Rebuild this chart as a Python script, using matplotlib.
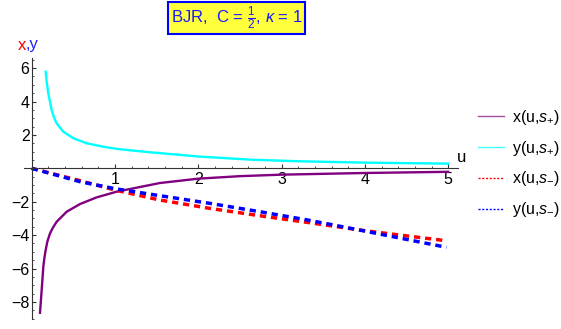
import matplotlib
matplotlib.use('Agg')
import matplotlib.pyplot as plt
from matplotlib.lines import Line2D
from matplotlib.ticker import MultipleLocator, FixedLocator

plt.rcParams['font.family'] = ['Liberation Sans', 'DejaVu Sans']
plt.rcParams['mathtext.fontset'] = 'custom'
plt.rcParams['mathtext.rm'] = 'Liberation Sans'
plt.rcParams['mathtext.it'] = 'Liberation Sans:italic'
plt.rcParams['mathtext.sf'] = 'Liberation Sans'

# values
u_xp = [0.10, 0.12, 0.14, 0.152, 0.168, 0.188, 0.22, 0.252, 0.30, 0.42, 0.58,
        0.78, 1.02, 1.54, 2.0, 2.5, 3.0, 4.0, 5.0]
x_plus = [-8.65, -7.29, -5.89, -5.39, -4.89, -4.39, -3.90, -3.58, -3.2, -2.6, -2.14,
          -1.74, -1.40, -0.88, -0.62, -0.47, -0.38, -0.28, -0.21]

u_yp = [0.168, 0.18, 0.199, 0.24, 0.268, 0.30, 0.38, 0.50, 0.66, 0.86, 1.06,
        1.42, 2.02, 2.62, 3.22, 4.0, 5.0]
y_plus = [5.78, 5.19, 4.49, 3.49, 3.05, 2.69, 2.19, 1.80, 1.50, 1.29, 1.14,
          0.96, 0.70, 0.52, 0.42, 0.34, 0.28]

u_minus = [0.0, 0.58, 1.0, 1.54, 2.14, 2.74, 3.34, 4.02, 4.98]
x_minus = [0.0, -0.74, -1.3, -1.9, -2.4, -2.84, -3.26, -3.75, -4.34]
y_minus = [0.0, -0.8, -1.22, -1.64, -2.1, -2.6, -3.12, -3.78, -4.73]

labels = [r'x(u,$s_{+}$)', r'y(u,$s_{+}$)', r'x(u,$s_{-}$)', r'y(u,$s_{-}$)']
colors = ['#800080', '#00ffff', '#ff0000', '#0000ff']

fig = plt.figure(figsize=(5.61, 3.29), dpi=100)
ax = fig.add_axes([0.0431, 0.0316, 0.7736, 0.7918])

ax.plot(u_xp, x_plus, color=colors[0], lw=1.7, solid_joinstyle='round')
ax.plot(u_yp, y_plus, color=colors[1], lw=1.7, solid_joinstyle='round')
ax.plot(u_minus, x_minus, color=colors[2], lw=2.5, dashes=(1.8, 1.4))
ax.plot(u_minus, y_minus, color=colors[3], lw=2.5, dashes=(1.8, 1.4))

ax.set_xlim(-0.09, 5.12)
ax.set_ylim(-9.0, 6.6)

for side in ['top', 'right']:
    ax.spines[side].set_visible(False)
ax.spines['left'].set_position(('data', 0))
ax.spines['bottom'].set_position(('data', 0))
for side in ['left', 'bottom']:
    ax.spines[side].set_color('#333333')
    ax.spines[side].set_linewidth(0.8)

ax.xaxis.set_major_locator(FixedLocator([1, 2, 3, 4, 5]))
ax.xaxis.set_minor_locator(MultipleLocator(0.2))
ax.yaxis.set_major_locator(FixedLocator([-8, -6, -4, -2, 2, 4, 6]))
ax.yaxis.set_minor_locator(MultipleLocator(0.5))
ax.tick_params(which='both', direction='in', color='#333333', labelsize=11.5)
ax.tick_params(which='major', length=3, width=0.8)
ax.tick_params(which='minor', length=1.6, width=0.6)
ax.tick_params(axis='x', pad=3)
ax.tick_params(axis='y', pad=1.5)

fig.text(462 / 561, 1 - 158 / 329, 'u', fontsize=12, ha='center', va='center')
fig.text(22 / 561, 1 - 45 / 329, 'x', color='#ff0000', fontsize=12, ha='center', va='center')
fig.text(26 / 561, 1 - 45 / 329, ',y', color='#2020ff', fontsize=12, ha='left', va='center')

fig.text(236.7 / 561, 1 - 18 / 329, r'BJR,  C = $\frac{1}{2}$, $\kappa$ = 1',
         color='#1a1aff', fontsize=12, ha='center', va='center',
         bbox=dict(boxstyle='square,pad=0.15', facecolor='#ffff3c',
                   edgecolor='#0000ff', linewidth=1.5))

handles = [Line2D([], [], color='#a050a0', lw=1.0),
           Line2D([], [], color='#40ffff', lw=1.0),
           Line2D([], [], color=colors[2], lw=1.0, dashes=(1.5, 1.2)),
           Line2D([], [], color=colors[3], lw=1.0, dashes=(1.5, 1.2))]
fig.legend(handles, labels, loc='center left',
           bbox_to_anchor=(478 / 561, 1 - 163.5 / 329),
           frameon=False, fontsize=11.5, borderpad=0, borderaxespad=0,
           handlelength=1.6, handletextpad=0.5, labelspacing=0.75)

fig.savefig('out.png', dpi=100)
